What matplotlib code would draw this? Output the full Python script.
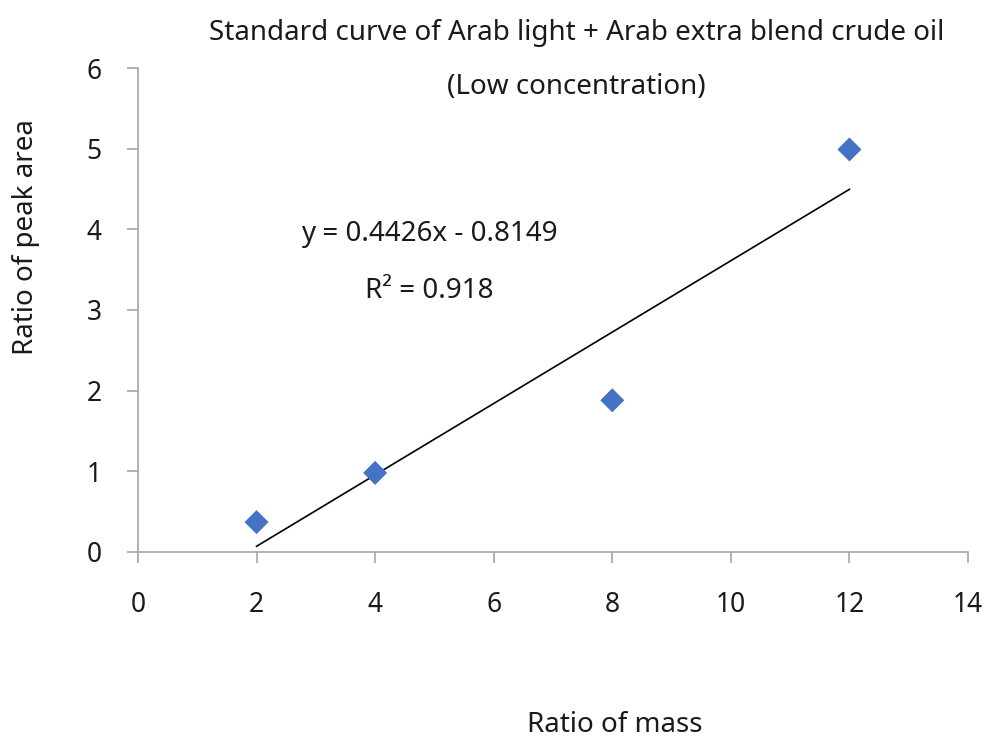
import matplotlib
matplotlib.use("Agg")
import matplotlib.pyplot as plt
import numpy as np

plt.rcParams['font.family'] = ['Noto Sans', 'DejaVu Sans']

# Calibration data
mass_ratio = [2, 4, 8, 12]
peak_area_ratio = [0.37, 0.98, 1.88, 4.99]

# Linear fit reported on the chart
slope = 0.4426
intercept = -0.8149
r_squared = 0.918

x_ticks = [0, 2, 4, 6, 8, 10, 12, 14]
y_ticks = [0, 1, 2, 3, 4, 5, 6]

fig = plt.figure(figsize=(9.89, 7.40), dpi=100)
ax = fig.add_axes([0.1395, 0.2541, 0.8393, 0.6540])

ax.scatter(mass_ratio, peak_area_ratio, marker='D', s=150, color='#4472C4',
           edgecolors='none', zorder=3)

fit_x = np.array([min(mass_ratio), max(mass_ratio)])
ax.plot(fit_x, slope * fit_x + intercept, color='black', lw=1.2, zorder=2)

ax.set_xlim(0, 14)
ax.set_ylim(0, 6)
ax.set_xticks(x_ticks)
ax.set_yticks(y_ticks)

for side in ('top', 'right'):
    ax.spines[side].set_visible(False)
for side in ('left', 'bottom'):
    ax.spines[side].set_color('#a6a6a6')
    ax.spines[side].set_linewidth(1.2)
ax.tick_params(axis='both', direction='out', length=8, width=1.2, color='#a6a6a6',
               labelsize=19, labelcolor='#1a1a1a')
ax.tick_params(axis='x', pad=20)
ax.tick_params(axis='y', pad=18)

eq_sign = '-' if intercept < 0 else '+'
ax.text(4.92, 3.94, f"y = {slope}x {eq_sign} {abs(intercept)}", ha='center', va='center',
        fontsize=20, color='#1a1a1a')
ax.text(4.92, 3.24, f"R² = {r_squared}", ha='center', va='center',
        fontsize=20, color='#1a1a1a')

fig.text(0.583, 0.955, "Standard curve of Arab light + Arab extra blend crude oil",
         ha='center', va='center', fontsize=20, color='#1a1a1a')
fig.text(0.583, 0.882, "(Low concentration)", ha='center', va='center',
         fontsize=20, color='#1a1a1a')

fig.text(0.622, 0.020, "Ratio of mass", ha='center', va='center', fontsize=20,
         color='#1a1a1a')
fig.text(0.026, 0.680, "Ratio of peak area", ha='center', va='center', fontsize=20,
         rotation=90, color='#1a1a1a')

fig.savefig("out.png", dpi=100)
